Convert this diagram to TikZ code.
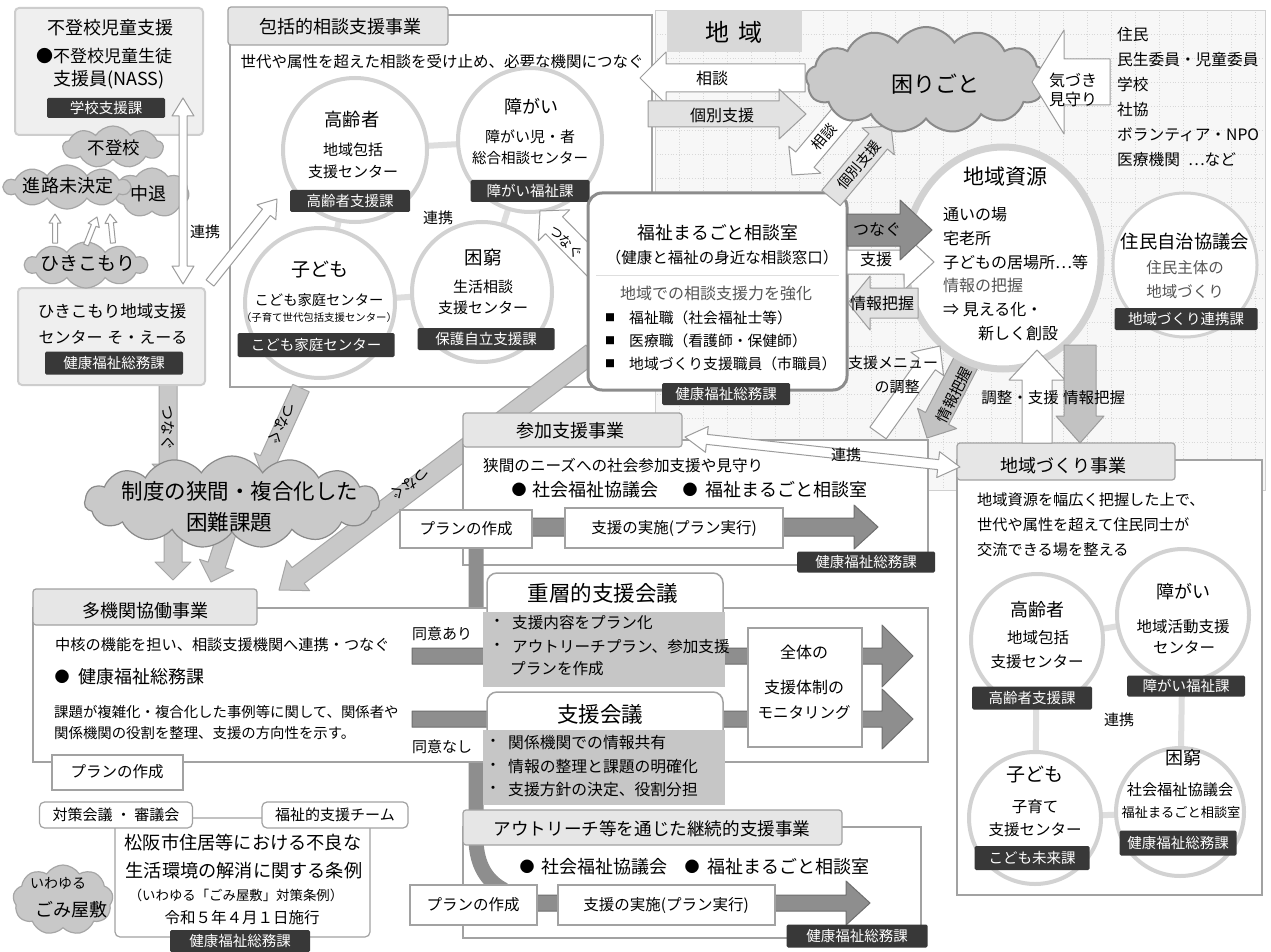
\documentclass[tikz,border=0pt]{standalone}
\usepackage{fontspec}
\setmainfont{Noto Sans CJK JP}
\usetikzlibrary{calc,shapes.geometric,shapes.symbols,fit}
\newcommand{\fs}[1]{\fontsize{#1pt}{\dimexpr #1pt*6/5\relax}\selectfont}
\definecolor{regc}{HTML}{F7F7F7}
\definecolor{regd}{HTML}{D0D0D0}
\definecolor{gridc}{HTML}{D8D8D8}
\definecolor{hdrc}{HTML}{D8D8D8}
\definecolor{bordc}{HTML}{A2A2A2}
\definecolor{tabc}{HTML}{E6E6E6}
\definecolor{rimc}{HTML}{D2D2D2}
\definecolor{ringc}{HTML}{DEDEDE}
\definecolor{cloudc}{HTML}{C9C9C9}
\definecolor{cloudd}{HTML}{8A8A8A}
\definecolor{lblc}{HTML}{383838}
\definecolor{arrd}{HTML}{9C9C9C}
\definecolor{lgr}{HTML}{E2E2E2}
\definecolor{mgr}{HTML}{C2C2C2}
\definecolor{dgr}{HTML}{8E8E8E}
\definecolor{dgrd}{HTML}{6E6E6E}
\definecolor{garf}{HTML}{C8C8C8}
\definecolor{gard}{HTML}{A6A6A6}
\definecolor{gtext}{HTML}{555555}
\definecolor{contc}{HTML}{C6C6C6}
\definecolor{boxc}{HTML}{EFEFEF}
\definecolor{boxd}{HTML}{CDCDCD}
\definecolor{fukud}{HTML}{8C8C8C}
\newcommand{\blockarr}[6]{%
  \coordinate (#2-hd) at ($(#3)!#6!(#2)$);
  \path[#1] ($(#2)!#4!90:(#3)$) -- ($(#2-hd)!#4!-90:(#2)$) -- ($(#2-hd)!#5!-90:(#2)$) -- (#3)
    -- ($(#2-hd)!#5!90:(#2)$) -- ($(#2-hd)!#4!90:(#2)$) -- ($(#2)!#4!-90:(#3)$) -- cycle;}
\newcommand{\dblockarr}[6]{%
  \coordinate (#2-hd) at ($(#3)!#6!(#2)$);
  \coordinate (#2-ht) at ($(#2)!#6!(#3)$);
  \path[#1] (#2) -- ($(#2-ht)!#5!90:(#3)$) -- ($(#2-ht)!#4!90:(#3)$) -- ($(#2-hd)!#4!-90:(#2)$)
    -- ($(#2-hd)!#5!-90:(#2)$) -- (#3) -- ($(#2-hd)!#5!90:(#2)$) -- ($(#2-hd)!#4!90:(#2)$)
    -- ($(#2-ht)!#4!-90:(#3)$) -- ($(#2-ht)!#5!-90:(#3)$) -- cycle;}
\tikzset{
  tx/.style={inner sep=0pt, font=\fs{#1}},
  txw/.style={inner sep=0pt, font=\fs{#1}, anchor=west},
  gtx/.style={inner sep=0pt, font=\fs{#1}, text=gtext},
  lbl/.style 2 args={fill=lblc, text=white, inner sep=0pt, font=\fs{14.5}, minimum width=#1pt, minimum height=#2pt, rounded corners=1.5pt},
  secbox/.style={draw=bordc, line width=2pt, fill=white, inner sep=0pt},
  tabbox/.style={draw=bordc, line width=1.2pt, fill=tabc, rounded corners=3pt, inner sep=0pt},
  circ/.style={circle, draw=rimc, line width=4pt, fill=white, minimum size=#1pt, inner sep=0pt},
  ring/.style={draw=ringc, line width=6pt},
  gcl/.style={cloud, cloud puffs=#1, cloud puff arc=115, cloud ignores aspect, fill=cloudc, draw=cloudd, line width=1.2pt, inner sep=0pt},
  warr/.style={fill=white, draw=arrd, line width=1pt, line join=round},
  larr/.style={fill=lgr, draw=arrd, line width=1pt, line join=round},
  marr/.style={fill=mgr, draw=arrd, line width=1pt, line join=round},
  darr/.style={fill=dgr, draw=dgrd, line width=1pt, line join=round},
  garr/.style={fill=garf, draw=gard, line width=1pt, line join=round},
  gbar/.style={draw=dgr, line width=15pt},
  planb/.style={draw=bordc, line width=2pt, fill=white, inner sep=0pt},
  sbox/.style={draw=bordc, line width=1.2pt, fill=white, rounded corners=5pt, inner sep=0pt},
  lbox/.style={fill=boxc, draw=boxd, line width=2pt, rounded corners=4pt, inner sep=0pt}
}
\begin{document}
\begin{tikzpicture}[x=1pt,y=-1pt]
\useasboundingbox (0,0) rectangle (1271,952);
\fill[white] (0,0) rectangle (1271,952);

% ===== region 地域
\node[fit={(655,10) (1265,490)}, inner sep=0pt, fill=regc, draw=regd, line width=0.8pt] (region) {};
\foreach \gx in {679,703,...,1255} \draw[gridc, dotted, line width=0.7pt] (\gx,12) -- (\gx,488);
\foreach \gy in {34,58,...,482} \draw[gridc, dotted, line width=0.7pt] (657,\gy) -- (1263,\gy);
\node[fit={(667,10) (802,52)}, inner sep=0pt, fill=hdrc] (chiikihdr) {};
\node[tx=24] (chiikit) at (734,32) {地\hspace{10pt}域};

% ===== 包括 box
\node[secbox, fit={(230,15) (652,387)}] (hkbox) {};

% long diagonal つなぐ
\coordinate (tlA) at (592,353); \coordinate (tlB) at (279,590);
\blockarr{garr}{tlA}{tlB}{10pt}{19pt}{24pt}

% other sections
\node[secbox, fit={(463,440) (928,565)}] (sankabox) {};
\node[secbox, fit={(957,460) (1262,895)}] (zukuribox) {};
\node[secbox, fit={(463,827) (921,938)}] (outbox) {};

% vertical gray connector
\coordinate (vb1) at (476,546); \coordinate (vb2) at (476,838); \coordinate (vb3) at (504,890);
\draw[gbar] (vb1) -- (vb2) .. controls (476,866) and (488,882) .. (vb3);

\node[secbox, fit={(33,608) (928,762)}] (takikanbox) {};

% tabs
\node[tabbox, fit={(228,7) (448,45)}] (hktab) {};
\node[tx=18] (hktabt) at (340,27) {包括的相談支援事業};
\node[tabbox, fit={(463,413) (682,447)}] (sankatab) {};
\node[tx=18] (sankatabt) at (570,431) {参加支援事業};
\node[tabbox, fit={(957,443) (1175,480)}] (zukuritab) {};
\node[tx=18] (zukuritabt) at (1063,466) {地域づくり事業};
\node[tabbox, fit={(463,810) (842,845)}] (outtab) {};
\node[tx=17.6] (outtabt) at (652,829) {アウトリーチ等を通じた継続的支援事業};
\node[tabbox, fit={(33,589) (257,625)}] (takikantab) {};
\node[tx=18] (takikantabt) at (145,611) {多機関協働事業};

% ===== 参加 plan row
\coordinate (p1A) at (402,527); \coordinate (p1B) at (878,527);
\blockarr{darr}{p1A}{p1B}{9pt}{22pt}{24pt}
\node[planb, minimum width=132pt, minimum height=38pt, font=\fs{15.5}] (plan1) at (466,529) {プランの作成};
\node[planb, minimum width=218pt, minimum height=40pt, font=\fs{15.5}] (exec1) at (674,528) {支援の実施(プラン実行)};
\node[lbl={138}{21}] (sankal) at (866,562) {健康福祉総務課};
\node[txw=15.6] (sanka1) at (483,466) {狭間のニーズへの社会参加支援や見守り};
\node[tx=15] (sankab1) at (519,490) {●};
\node[txw=18] (sanka2) at (532,490) {社会福祉協議会};
\node[tx=15] (sankab2) at (690,490) {●};
\node[txw=18] (sanka3) at (705,490) {福祉まるごと相談室};

% ===== アウトリーチ plan row
\coordinate (p3A) at (412,903); \coordinate (p3B) at (870,903);
\blockarr{darr}{p3A}{p3B}{8pt}{22pt}{24pt}
\node[planb, minimum width=127pt, minimum height=40pt, font=\fs{15.5}] (plan3) at (473,905) {プランの作成};
\node[planb, minimum width=217pt, minimum height=40pt, font=\fs{15.5}] (exec3) at (666,905) {支援の実施(プラン実行)};
\node[lbl={141}{23}] (outl) at (857,936) {健康福祉総務課};
\node[tx=15] (outb1) at (527,867) {●};
\node[txw=18] (out2) at (541,867) {社会福祉協議会};
\node[tx=15] (outb2) at (692,867) {●};
\node[txw=18] (out3) at (707,867) {福祉まるごと相談室};

% ===== 同意 rows
\coordinate (d1A) at (412,656); \coordinate (d1B) at (913,656);
\blockarr{darr}{d1A}{d1B}{8pt}{31pt}{31pt}
\coordinate (d2A) at (412,719); \coordinate (d2B) at (913,719);
\blockarr{darr}{d2A}{d2B}{8pt}{30pt}{31pt}
\node[txw=15] (doi1) at (412,634) {同意あり};
\node[txw=15] (doi2) at (412,747) {同意なし};

% 重層的支援会議
\node[fit={(487,573) (723,625)}, inner sep=0pt, draw=bordc, line width=1.5pt, fill=white, rounded corners=10pt] (jutitle) {};
\node[fit={(483,612) (725,687)}, inner sep=0pt, fill=contc] (jubody) {};
\node[tx=21.5] (jutitlet) at (603,593) {重層的支援会議};
\node[tx=15] (jub1) at (497,623) {・};
\node[txw=15.6] (jut1) at (512,623) {支援内容をプラン化};
\node[tx=15] (jub2) at (497,647) {・};
\node[txw=15.6] (jut2) at (512,647) {アウトリーチプラン、参加支援};
\node[txw=15.6] (jut3) at (510,669) {プランを作成};
% 支援会議
\node[fit={(487,692) (723,742)}, inner sep=0pt, draw=bordc, line width=1.5pt, fill=white, rounded corners=10pt] (shtitle) {};
\node[fit={(483,730) (725,805)}, inner sep=0pt, fill=contc] (shbody) {};
\node[tx=21.5] (shtitlet) at (600,714) {支援会議};
\node[tx=15] (shb1) at (493,743) {・};
\node[txw=15.8] (sht1) at (508,743) {関係機関での情報共有};
\node[tx=15] (shb2) at (493,767) {・};
\node[txw=15.8] (sht2) at (508,767) {情報の整理と課題の明確化};
\node[tx=15] (shb3) at (493,790) {・};
\node[txw=15.8] (sht3) at (508,790) {支援方針の決定、役割分担};
% monitoring
\node[planb, fit={(748,628) (862,747)}] (moni) {};
\node[tx=16] (moni1) at (804,652) {全体の};
\node[tx=16] (moni2) at (804,687) {支援体制の};
\node[tx=15.5] (moni3) at (804,713) {モニタリング};

% ===== 多機関 texts
\node[txw=15.2] (tk1) at (55,645) {中核の機能を担い、相談支援機関へ連携・つなぐ};
\node[tx=15] (tkb) at (62,677) {●};
\node[txw=18] (tk2) at (78,677) {健康福祉総務課};
\node[txw=14.4] (tk3) at (54,712) {課題が複雑化・複合化した事例等に関して、関係者や};
\node[txw=14.4] (tk4) at (54,733) {関係機関の役割を整理、支援の方向性を示す。};
\node[planb, minimum width=131pt, minimum height=35pt, font=\fs{15.5}] (plan2) at (117,772) {プランの作成};

% ===== 条例 area
\node[sbox, fit={(115,818) (370,937)}] (jorei) {};
\node[sbox, minimum width=153pt, minimum height=26pt, font=\fs{15}] (taisaku) at (116,815) {対策会議 ・ 審議会};
\node[sbox, minimum width=146pt, minimum height=26pt, font=\fs{15}] (fukushiteam) at (335,815) {福祉的支援チーム};
\node[tx=18.2] (jo1) at (243,843) {松阪市住居等における不良な};
\node[tx=18.2] (jo2) at (244,871) {生活環境の解消に関する条例};
\node[tx=13.4] (jo3) at (236,895) {（いわゆる「ごみ屋敷」対策条例）};
\node[tx=15.5] (jo4) at (242,918) {令和５年４月１日施行};
\node[lbl={140}{22}] (jorel) at (240,941) {健康福祉総務課};
\node[gcl=9, fill=garf, draw=gard, minimum width=100pt, minimum height=70pt] (gomi) at (63,900) {};
\node[tx=14] (gomi1) at (58,883) {いわゆる};
\node[tx=18] (gomi2) at (71,910) {ごみ屋敷};

% ===== cloud feeds
\coordinate (tv1A) at (168,385); \coordinate (tv1B) at (168,480);
\blockarr{garr}{tv1A}{tv1B}{9pt}{16pt}{16pt}
\coordinate (tv2A) at (301,388); \coordinate (tv2B) at (262,474);
\blockarr{garr}{tv2A}{tv2B}{9pt}{16pt}{16pt}
\coordinate (cd1A) at (173,530); \coordinate (cd1B) at (173,580);
\blockarr{garr}{cd1A}{cd1B}{9pt}{18pt}{18pt}
\coordinate (cd2A) at (228,530); \coordinate (cd2B) at (211,582);
\blockarr{garr}{cd2A}{cd2B}{9pt}{18pt}{18pt}
\node[tx=15, rotate=-90] (tv1t) at (168,428) {つなぐ};
\node[tx=15, rotate=-114] (tv2t) at (282,424) {つなぐ};
\node[tx=15, rotate=-144] (tlt) at (410,484) {つなぐ};

\node[gcl=15, minimum width=295pt, minimum height=92pt] (seido) at (232,502) {};
\node[tx=21.5] (seido1) at (240,491) {制度の狭間・複合化した};
\node[tx=21.5] (seido2) at (229,522) {困難課題};

% ===== top-left boxes
\node[lbox, fit={(15,8) (203,135)}] (futobox) {};
\node[tx=18] (ft1) at (110,28) {不登校児童支援};
\node[tx=17] (ft2) at (104,56) {●不登校児童生徒};
\node[tx=18] (ft3) at (109,80) {支援員(NASS)};
\node[lbl={118}{20}] (ftl) at (106,108) {学校支援課};

\node[lbox, fit={(18,288) (205,385)}] (hikibox) {};
\node[tx=16.5] (hb1) at (112,311) {ひきこもり地域支援};
\node[tx=16] (hb2) at (113,337) {センター\hspace{5pt}そ・えーる};
\node[lbl={138}{23}] (hbl) at (114,363) {健康福祉総務課};

\node[gcl=9, fill=garf, draw=gard, minimum width=100pt, minimum height=42pt] (futo) at (113,147) {};
\node[gcl=7, fill=garf, draw=gard, minimum width=74pt, minimum height=50pt] (chutai) at (152,193) {};
\node[gcl=10, fill=garf, draw=gard, minimum width=126pt, minimum height=44pt] (shinro) at (67,187) {};
\node[gcl=10, fill=garf, draw=gard, minimum width=122pt, minimum height=46pt] (hikicl) at (86,265) {};
\node[tx=17.5] (futot) at (114,148) {不登校};
\node[tx=18] (shinrot) at (68,186) {進路未決定};
\node[tx=18] (chutait) at (148,194) {中退};
\node[tx=19] (hikit) at (88,263) {ひきこもり};
\coordinate (s1A) at (55,243); \coordinate (s1B) at (55,214);
\coordinate (s2A) at (86,245); \coordinate (s2B) at (97,217);
\coordinate (s3A) at (113,243); \coordinate (s3B) at (110,214);
\blockarr{warr}{s1A}{s1B}{2.5pt}{6pt}{9pt}
\blockarr{warr}{s2A}{s2B}{2.5pt}{6pt}{9pt}
\blockarr{warr}{s3A}{s3B}{2.5pt}{6pt}{9pt}

% vertical 連携 and arrow into 包括
\coordinate (rvA) at (183,98); \coordinate (rvB) at (183,284);
\dblockarr{warr}{rvA}{rvB}{4pt}{11pt}{18pt}
\node[tx=15] (rvt) at (205,232) {連携};
\coordinate (hkA) at (210,283); \coordinate (hkB) at (277,199);
\blockarr{warr}{hkA}{hkB}{5pt}{12pt}{17pt}

% ===== 包括 content
\node[tx=15.5] (hksub) at (442,62) {世代や属性を超えた相談を受け止め、必要な機関につなぐ};
\coordinate (k1) at (355,150); \coordinate (k2) at (530,140);
\coordinate (k3) at (320,303); \coordinate (k4) at (482,292);
\draw[ring] (k1) -- (k2) -- (k4) -- (k3) -- cycle;
\node[circ=144] (c1) at (k1) {};
\node[circ=144] (c2) at (k2) {};
\node[circ=150] (c3) at (k3) {};
\node[circ=140] (c4) at (k4) {};
\node[tx=15] (hkr) at (438,218) {連携};
\node[tx=18.3] (c1a) at (352,120) {高齢者};
\node[tx=15] (c1b) at (353,150) {地域包括};
\node[tx=15] (c1c) at (353,172) {支援センター};
\node[lbl={120}{22}] (c1l) at (350,201) {高齢者支援課};
\node[tx=18] (c2a) at (531,107) {障がい};
\node[tx=15] (c2b) at (530,137) {障がい児・者};
\node[tx=14.5] (c2c) at (530,158) {総合相談センター};
\node[lbl={119}{22}] (c2l) at (530,191) {障がい福祉課};
\node[tx=19] (c3a) at (320,270) {子ども};
\node[tx=14.3] (c3b) at (319,300) {こども家庭センター};
\node[tx=10.4] (c3c) at (319,318) {（子育て世代包括支援センター）};
\node[lbl={157}{24}] (c3l) at (316,345) {こども家庭センター};
\node[tx=18.5] (c4a) at (483,257) {困窮};
\node[tx=15] (c4b) at (483,287) {生活相談};
\node[tx=15] (c4c) at (483,308) {支援センター};
\node[lbl={137}{22}] (c4l) at (486,339) {保護自立支援課};

% つなぐ into 包括 and 福祉まるごと
\coordinate (tkA) at (602,274); \coordinate (tkB) at (540,211);
\blockarr{warr}{tkA}{tkB}{12pt}{22pt}{20pt}
\node[fit={(588,193) (847,390)}, inner sep=0pt, draw=fukud, line width=3pt, fill=white, rounded corners=14pt] (fukubox) {};
\node[tx=13.5, rotate=-45] (tkt) at (566,242) {つなぐ};
\coordinate (fs1) at (596,275); \coordinate (fs2) at (839,275);
\draw[ringc, line width=1pt] (fs1) -- (fs2);
\node[tx=17.8] (fk1) at (718,233) {福祉まるごと相談室};
\node[tx=15.5] (fk2) at (722,258) {（健康と福祉の身近な相談窓口）};
\node[gtx=16] (fk3) at (716,293) {地域での相談支援力を強化};
\node[tx=10] (fkb1) at (610,318) {■};
\node[tx=10] (fkb2) at (610,341) {■};
\node[tx=10] (fkb3) at (610,364) {■};
\node[txw=14.8] (fkt1) at (629,318) {福祉職（社会福祉士等）};
\node[txw=14.8] (fkt2) at (629,341) {医療職（看護師・保健師）};
\node[txw=14.8] (fkt3) at (629,364) {地域づくり支援職員（市職員）};
\node[lbl={128}{22}] (fkl) at (726,394) {健康福祉総務課};

% ===== 地域 side arrows
\coordinate (soA) at (805,78); \coordinate (soB) at (640,78);
\blockarr{warr}{soA}{soB}{14pt}{26pt}{26pt}
\node[tx=16] (sot) at (712,78) {相談};
\coordinate (kbA) at (648,114); \coordinate (kbB) at (806,114);
\blockarr{larr}{kbA}{kbB}{13pt}{25pt}{27pt}
\node[tx=16] (kbt) at (722,115) {個別支援};
\coordinate (sdA) at (855,100); \coordinate (sdB) at (792,175);
\blockarr{warr}{sdA}{sdB}{12pt}{21pt}{20pt}
\coordinate (kdA) at (831,198); \coordinate (kdB) at (891,126);
\blockarr{larr}{kdA}{kdB}{12pt}{21pt}{20pt}
\node[tx=14.5, rotate=50] (sdt) at (824,137) {相談};
\node[tx=14.5, rotate=50] (kdt) at (859,165) {個別支援};

\node[gcl=13, minimum width=240pt, minimum height=106pt, line width=2pt] (komari) at (926,80) {};
\node[tx=22] (komarit) at (935,84) {困りごと};
\coordinate (kzA) at (1110,82); \coordinate (kzB) at (1032,82);
\blockarr{warr}{kzA}{kzB}{23pt}{52pt}{32pt}
\node[tx=16] (kz1) at (1073,80) {気づき};
\node[tx=16] (kz2) at (1073,99) {見守り};

\node[txw=15.7] (r1) at (1117,35) {住民};
\node[txw=15.7] (r2) at (1117,60) {民生委員・児童委員};
\node[txw=15.7] (r3) at (1117,85) {学校};
\node[txw=15.7] (r4) at (1117,110) {社協};
\node[txw=15.7] (r5) at (1117,135) {ボランティア・NPO};
\node[txw=15.7] (r6) at (1117,160) {医療機関\hspace{8pt}…など};

% 地域資源
\coordinate (jdA) at (975,345); \coordinate (jdB) at (927,438);
\blockarr{marr}{jdA}{jdB}{13pt}{22pt}{22pt}
\node[ellipse, draw=rimc, line width=7pt, fill=white, minimum width=196pt, minimum height=222pt, inner sep=0pt] (shigen) at (1003,258) {};
\node[tx=21] (sg0) at (1005,177) {地域資源};
\node[txw=16] (sg1) at (943,215) {通いの場};
\node[txw=16] (sg2) at (943,238) {宅老所};
\node[txw=16] (sg3) at (943,262) {子どもの居場所…等};
\node[gtx=16, anchor=west] (sg4) at (943,285) {情報の把握};
\node[txw=16] (sg5) at (943,310) {⇒ 見える化・};
\node[txw=16] (sg6) at (978,333) {新しく創設};

\coordinate (shA) at (847,262); \coordinate (shB) at (934,262);
\blockarr{warr}{shA}{shB}{12pt}{28pt}{30pt}
\coordinate (tnA) at (847,230); \coordinate (tnB) at (932,230);
\blockarr{darr}{tnA}{tnB}{16pt}{30pt}{32pt}
\node[tx=16] (tnt) at (877,230) {つなぐ};
\node[tx=16] (sht) at (876,259) {支援};
\coordinate (jhA) at (918,303); \coordinate (jhB) at (848,303);
\blockarr{larr}{jhA}{jhB}{15pt}{27pt}{22pt}
\node[tx=16] (jht) at (882,303) {情報把握};
\coordinate (smA) at (878,433); \coordinate (smB) at (940,346);
\blockarr{warr}{smA}{smB}{10pt}{20pt}{22pt}
\node[tx=15] (smt1) at (893,363) {支援メニュー};
\node[tx=15] (smt2) at (897,387) {の調整};
\node[tx=15, rotate=63] (jdt) at (954,395) {情報把握};

\coordinate (csA) at (1037,443); \coordinate (csB) at (1037,350);
\blockarr{warr}{csA}{csB}{15pt}{28pt}{30pt}
\coordinate (jvA) at (1080,345); \coordinate (jvB) at (1080,443);
\blockarr{marr}{jvA}{jvB}{16pt}{24pt}{27pt}
\node[tx=15.5] (cst) at (1020,398) {調整・支援};
\node[tx=15.5] (jvt) at (1094,398) {情報把握};

% 住民自治協議会
\node[circ=144, line width=3pt] (jumin) at (1185,265) {};
\node[tx=18.3] (jm1) at (1185,242) {住民自治協議会};
\node[gtx=15.5] (jm2) at (1185,268) {住民主体の};
\node[gtx=15.5] (jm3) at (1185,292) {地域づくり};
\node[lbl={143}{22}] (jml) at (1186,319) {地域づくり連携課};

% 連携 参加-地域づくり
\coordinate (rsA) at (685,437); \coordinate (rsB) at (960,467);
\dblockarr{warr}{rsA}{rsB}{5pt}{13pt}{22pt}
\node[tx=15] (rst) at (846,455) {連携};

% ===== 地域づくり content
\node[txw=15.2] (zk1) at (977,500) {地域資源を幅広く把握した上で、};
\node[txw=15.2] (zk2) at (977,525) {世代や属性を超えて住民同士が};
\node[txw=15.2] (zk3) at (977,550) {交流できる場を整える};
\coordinate (m1) at (1037,640); \coordinate (m2) at (1183,615);
\coordinate (m3) at (1035,818); \coordinate (m4) at (1180,812);
\draw[ring] (m1) -- (m2) -- (m4) -- (m3) -- cycle;
\node[circ=132] (z1) at (m1) {};
\node[circ=132] (z2) at (m2) {};
\node[circ=132] (z3) at (m3) {};
\node[circ=128] (z4) at (m4) {};
\node[tx=15] (zr) at (1119,720) {連携};
\node[tx=18] (z1a) at (1037,610) {高齢者};
\node[tx=15.5] (z1b) at (1038,638) {地域包括};
\node[tx=15.5] (z1c) at (1037,662) {支援センター};
\node[lbl={120}{23}] (z1l) at (1032,698) {高齢者支援課};
\node[tx=18] (z2a) at (1183,592) {障がい};
\node[tx=15.5] (z2b) at (1183,627) {地域活動支援};
\node[tx=15.5] (z2c) at (1184,648) {センター};
\node[lbl={118}{21}] (z2l) at (1186,686) {障がい福祉課};
\node[tx=19] (z3a) at (1035,775) {子ども};
\node[tx=15.5] (z3b) at (1035,807) {子育て};
\node[tx=15.5] (z3c) at (1035,830) {支援センター};
\node[lbl={115}{24}] (z3l) at (1032,858) {こども未来課};
\node[tx=18] (z4a) at (1183,758) {困窮};
\node[tx=15.2] (z4b) at (1180,790) {社会福祉協議会};
\node[tx=13.2] (z4c) at (1181,812) {福祉まるごと相談室};
\node[lbl={117}{25}] (z4l) at (1178,843) {健康福祉総務課};
\end{tikzpicture}
\end{document}
